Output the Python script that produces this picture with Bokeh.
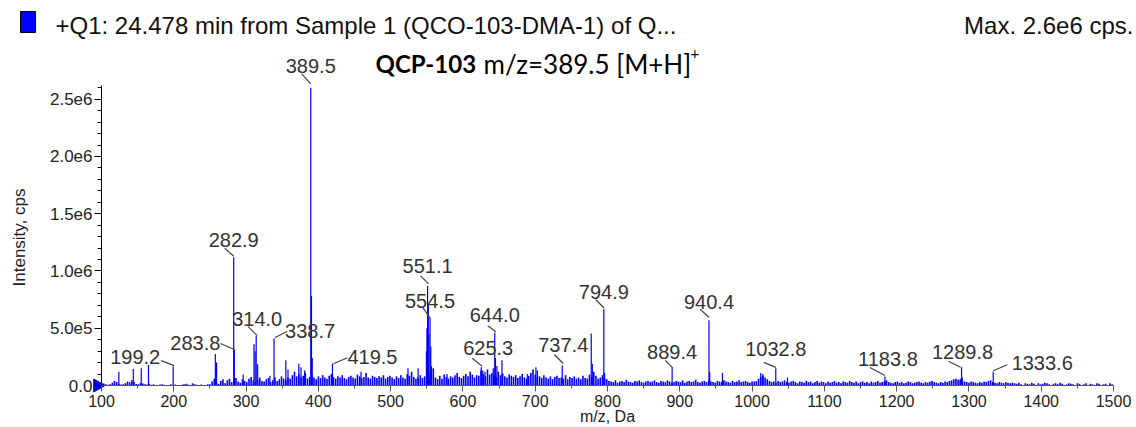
from bokeh.plotting import figure
from bokeh.models import Range1d, FixedTicker, Label, LabelSet, ColumnDataSource, Arrow
from bokeh.core.properties import value
from bokeh.embed import file_html
from bokeh.resources import INLINE

# ---------------- data ----------------
header_text = "+Q1: 24.478 min from Sample 1 (QCO-103-DMA-1) of Q..."
max_text = "Max. 2.6e6 cps."
compound = "QCP-103"
ion_text = "m/z=389.5 [M+H]"
x_title = "m/z, Da"
y_title = "Intensity, cps"

# baseline "grass" of the profile spectrum, intensities in 1e3 cps, 3 Da sampling per block
grass_step = 3.0
grass_a_start, grass_a = 100.0, [22, 18, 10, 6, 12, 25, 40, 30, 15, 8, 12, 20, 35, 28, 45, 30, 14, 10, 22, 18,
                                 12, 8, 15, 6, 10, 5, 4, 8, 12, 6, 4, 3, 10, 5, 8, 4, 3, 6, 12, 15,
                                 8, 5, 20, 10, 6, 4, 8, 3, 5, 12]
grass_b_start, grass_b = 250.0, [10, 35, 60, 25, 15, 40, 55, 20, 45, 60, 30, 50, 65, 35, 25, 55, 40, 30, 60, 75,
                                 45, 30, 50, 70, 40, 35, 55, 65, 30, 45, 70, 40, 55, 80, 60, 45, 70]
grass_c_start, grass_c = 361.0, [60, 90, 120, 80, 100, 70, 85, 110, 60, 75, 95, 70, 55, 80, 65, 90, 70, 60, 85, 100,
                                 75, 60, 80, 70, 90, 65, 55, 75, 85, 70, 60, 95, 80, 65, 75, 110, 70, 60, 85, 75,
                                 65, 80, 70, 90, 60, 75, 85, 70, 55, 80, 65, 90, 70, 60, 100, 85, 120, 75, 60, 70,
                                 90, 65, 80, 110, 95, 130, 150]
grass_d_start, grass_d = 562.0, [70, 55, 85, 60, 95, 75, 60, 80, 70, 90, 110, 75, 65, 85, 100, 80, 120, 95, 70, 90,
                                 85, 130, 100, 80, 140, 95, 110, 85, 75, 120, 90, 105, 80, 70, 95, 85, 75, 90, 65, 80,
                                 100, 70, 60, 85, 110, 140, 95, 75, 80, 65, 90, 70, 60, 80, 55, 75, 85, 65, 70, 60,
                                 90, 55, 75, 65, 80, 60, 70, 55, 85, 65, 60, 95, 70, 120, 85, 60, 70, 90, 65, 55]
grass_e_start, grass_e = 802.0, [40, 35, 30, 45, 25, 35, 40, 30, 50, 35, 30, 25, 40, 35, 45, 30, 25, 35, 40, 30,
                                 35, 45, 30, 25, 40, 35, 30, 45, 35, 25, 30, 40, 35, 30, 45, 25, 35, 40, 30, 35,
                                 50, 30, 25, 35, 40, 30, 45, 35, 30, 25, 40, 35, 30, 45, 35, 30, 25, 40, 30, 35,
                                 45, 30, 35, 40, 30, 25, 35]
grass_f_start, grass_f = 1003.0, [35, 40, 60, 75, 85, 70, 55, 40, 30, 35, 25, 40, 30, 35, 45, 30, 25, 35, 40, 30,
                                  20, 35, 30, 25, 40, 30, 35, 20, 30, 40, 25, 35, 30, 20, 35, 25, 30, 40, 25, 30,
                                  20, 35, 30, 25, 40, 30, 25, 35, 20, 30, 35, 25, 30, 20, 35, 25, 30, 40, 25, 30,
                                  35, 45, 30, 25, 20, 30, 35, 25, 30, 20, 25, 35, 30, 20, 25, 30, 35, 25, 20, 30,
                                  25, 35, 40, 30, 25, 20, 30, 25, 35, 30, 40, 45, 55, 60, 50, 45, 40, 35, 30, 25,
                                  35, 30, 25, 20, 30, 25, 35, 30, 40, 45, 30, 25, 20, 30, 25, 20, 30, 25, 20, 25]
grass_g_start, grass_g = 1363.0, [20, 15, 25, 10, 0, 20, 15, 10, 25, 15, 0, 20, 10, 15, 25, 20, 10, 0, 15, 20,
                                  10, 25, 15, 0, 10, 20, 15, 10, 0, 20, 15, 0, 10, 20, 0, 15, 10, 0, 20, 15,
                                  0, 10, 15, 0, 20, 10]

# unlabelled peaks (m/z, intensity in 1e3 cps)
peak_mz = [124, 144, 155, 165, 257.5, 259.2, 296, 311.0, 312.5, 316.0, 333.0, 355.0, 358.0,
           373.0, 376.0, 381.0, 390.5, 391.5, 459.0, 524.0, 538.0,
           549.5, 550.2, 552.1, 553.0, 555.5, 556.5, 578.0,
           627.5, 630.5, 642.0, 645.0, 647.0, 654.0, 689.0, 701.0, 703.0,
           777.5, 779.0, 795.9, 941.4, 959.0, 1012.0, 1015.0, 1049.0,
           1184.8, 1288.0, 1290.8]
peak_int = [120, 145, 150, 180, 275, 200, 95, 360, 300, 185, 85, 220, 140,
            190, 160, 130, 780, 240, 120, 150, 150,
            300, 500, 700, 450, 340, 170, 100,
            130, 120, 150, 240, 170, 220, 100, 160, 130,
            455, 190, 110, 120, 110, 110, 100, 70,
            40, 60, 70]

# annotated peaks (m/z, intensity in 1e3 cps)
label_mz = [199.2, 282.9, 283.8, 314.0, 338.7, 389.5, 419.5, 551.1, 554.5, 625.3,
            644.0, 737.4, 794.9, 889.4, 940.4, 1032.8, 1183.8, 1289.8, 1333.6]
label_int = [165, 1120, 315, 435, 410, 2600, 190, 870, 590, 160,
             460, 175, 670, 150, 570, 150, 78, 160, 120]

x_ticks = list(range(100, 1501, 100))
y_ticks = [0, 500000, 1000000, 1500000, 2000000, 2500000]
y_tick_text = ["0.0", "5.0e5", "1.0e6", "1.5e6", "2.0e6", "2.5e6"]

# ---------------- layout ----------------
W, H = 1136, 427
OX, OY = 101, 385                 # pixel position of (100 Da, 0 cps)
PX_PER_DA = 1012.0 / 1400.0
PX_PER_CPS = 300.0 / 2.62e6
AXIS_X = (100.0, 1500.0)
AXIS_Y = (0.0, 2.62e6)

XMIN = 100.0 - OX / PX_PER_DA
XMAX = 100.0 + (W - OX) / PX_PER_DA
YMIN = -(H - OY) / PX_PER_CPS
YMAX = OY / PX_PER_CPS


def X(px):
    return 100.0 + (px - OX) / PX_PER_DA


def Y(py):
    return (OY - py) / PX_PER_CPS


# label placement: text centre offset and leader line ends, pixels relative to the peak top
label_dx = [-38, 0, -39, 1, 36, 0, 40, 0, 0, 7, 0, 1, 0, 0, 0, 0, 3, 1, 49]
label_dy = [-10, -17, -6, -17, -8, -22, -7, -20, -17, -19, -18, -20, -17, -16, -18, -19, -18, -15, -9]
lead_x0 = [-12, -9, -14, -8, 1, -9, 1, -7, -7, -9, -7, -8, -8, -7, -9, -12, -15, -13, 0]
lead_y0 = [-6, -9, -6, -9, -1, -14, 0, -10, -10, -9, -7, -11, -9, -8, -11, -6, -9, -6, -1]
lead_x1 = [1, 0, 0, 1, 13, 0, 15, 1, 0, 1, 1, 1, 0, 1, 0, 0, 0, -1, 14]
lead_y1 = [-1, -1, 0, 0, -7, -4, -6, -2, 0, -1, -1, -2, -1, 0, -3, -1, -1, 0, -7]

BLUE = "#0000ff"
FONT = "Liberation Sans"

p = figure(width=W, height=H, output_backend="svg", toolbar_location=None,
           x_range=Range1d(XMIN, XMAX), y_range=Range1d(YMIN, YMAX),
           min_border_left=0, min_border_right=0, min_border_top=0, min_border_bottom=0)
p.outline_line_color = None
p.xgrid.visible = False
p.ygrid.visible = False
p.background_fill_color = "white"
p.border_fill_color = "white"

# grass
gx, gy = [], []
for start, vals in [(grass_a_start, grass_a), (grass_b_start, grass_b), (grass_c_start, grass_c),
                    (grass_d_start, grass_d), (grass_e_start, grass_e), (grass_f_start, grass_f),
                    (grass_g_start, grass_g)]:
    for i, v in enumerate(vals):
        gx.append(start + i * grass_step)
        gy.append(v * 1000.0)
grass_src = ColumnDataSource(dict(x=gx, y0=[0.0] * len(gx), y1=gy))
p.segment(x0="x", y0="y0", x1="x", y1="y1", source=grass_src, line_color=BLUE, line_width=1.6)

pk_src = ColumnDataSource(dict(x=peak_mz, y0=[0.0] * len(peak_mz), y1=[v * 1000.0 for v in peak_int]))
p.segment(x0="x", y0="y0", x1="x", y1="y1", source=pk_src, line_color=BLUE, line_width=1.2)

lab_top = [v * 1000.0 for v in label_int]
lb_src = ColumnDataSource(dict(x=label_mz, y0=[0.0] * len(label_mz), y1=lab_top))
p.segment(x0="x", y0="y0", x1="x", y1="y1", source=lb_src, line_color=BLUE, line_width=1.2)

# peak annotations
txt_src = ColumnDataSource(dict(
    x=[m + dx / PX_PER_DA for m, dx in zip(label_mz, label_dx)],
    y=[t - dy / PX_PER_CPS for t, dy in zip(lab_top, label_dy)],
    text=["%.1f" % m for m in label_mz],
    xs=[m + a / PX_PER_DA for m, a in zip(label_mz, lead_x0)],
    ys=[t - b / PX_PER_CPS for t, b in zip(lab_top, lead_y0)],
    xe=[m + a / PX_PER_DA for m, a in zip(label_mz, lead_x1)],
    ye=[t - b / PX_PER_CPS for t, b in zip(lab_top, lead_y1)],
))
p.add_layout(Arrow(x_start="xs", y_start="ys", x_end="xe", y_end="ye", source=txt_src, end=None,
                   line_color="#444444", line_width=1.2))
p.add_layout(LabelSet(x="x", y="y", text="text", source=txt_src, text_align="center",
                      text_baseline="middle", text_font=value(FONT), text_font_size="20px",
                      text_color="#333333"))

# axes, pinned at the data origin
xa = p.xaxis[0]
xa.fixed_location = 0.0
xa.bounds = AXIS_X
xa.ticker = FixedTicker(ticks=x_ticks, minor_ticks=[t + 50 for t in x_ticks[:-1]])
xa.axis_line_color = "#555555"
xa.major_tick_line_color = "#555555"
xa.minor_tick_line_color = "#555555"
xa.major_tick_out, xa.major_tick_in = 6, 0
xa.minor_tick_out, xa.minor_tick_in = 3, 0
xa.major_label_standoff = 3
xa.major_label_text_font = FONT
xa.major_label_text_font_size = "16px"
xa.major_label_text_color = "#222222"

ya = p.yaxis[0]
ya.fixed_location = 100.0
ya.bounds = AXIS_Y
ya.ticker = FixedTicker(ticks=y_ticks, minor_ticks=list(range(100000, 2600001, 100000)))
ya.major_label_overrides = {t: s for t, s in zip(y_ticks, y_tick_text)}
ya.axis_line_color = "black"
ya.major_tick_out, ya.major_tick_in = 7, 0
ya.minor_tick_out, ya.minor_tick_in = 4, 0
ya.major_label_standoff = 2
ya.major_label_text_font = FONT
ya.major_label_text_font_size = "17px"
ya.major_label_text_color = "#222222"

# cursor marker at the origin
p.scatter(x=[X(97)], y=[0.0], marker="triangle", size=13, angle=-1.5707963,
          fill_color=BLUE, line_color="#000080", line_width=1)

# axis titles
p.add_layout(Label(x=X(607), y=Y(416), text=x_title, text_align="center", text_baseline="middle",
                   text_font=FONT, text_font_size="16px", text_color="#222222"))
p.add_layout(Label(x=X(19), y=Y(237), text=y_title, angle=1.5707963, text_align="center",
                   text_baseline="middle", text_font=FONT, text_font_size="17px", text_color="#222222"))

# header
p.quad(left=[X(20)], right=[X(35)], top=[Y(11)], bottom=[Y(32)], fill_color=BLUE,
       line_color="black", line_width=1)
p.add_layout(Label(x=X(55), y=Y(25), text=header_text, text_align="left", text_baseline="middle",
                   text_font=FONT, text_font_size="24px", text_color="#111111"))
p.add_layout(Label(x=X(1133), y=Y(25), text=max_text, text_align="right", text_baseline="middle",
                   text_font=FONT, text_font_size="24px", text_color="#111111"))
p.add_layout(Label(x=X(375), y=Y(63), text=compound, text_align="left", text_baseline="middle",
                   text_font="Lato", text_font_style="bold", text_font_size="24px", text_color="black"))
p.add_layout(Label(x=X(483), y=Y(63), text=ion_text, text_align="left", text_baseline="middle",
                   text_font="Lato", text_font_size="26px", text_color="black"))
p.add_layout(Label(x=X(690), y=Y(53), text="+", text_align="left", text_baseline="middle",
                   text_font="Lato", text_font_size="15px", text_color="black"))

open("out.html", "w").write(file_html(p, INLINE))
